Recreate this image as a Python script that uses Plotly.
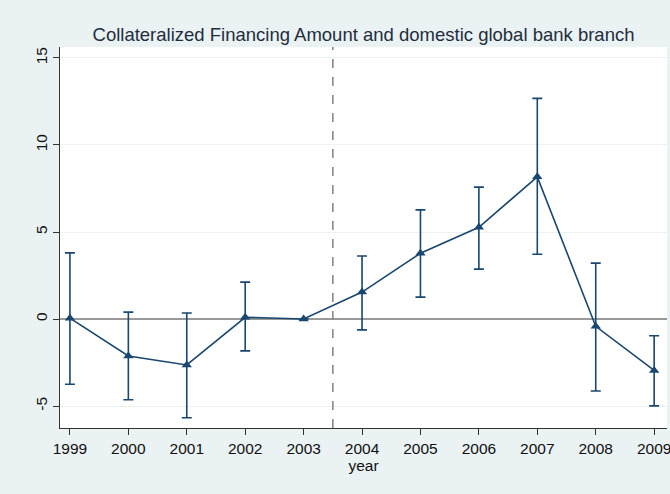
import plotly.graph_objects as go

years = [1999, 2000, 2001, 2002, 2003, 2004, 2005, 2006, 2007, 2008, 2009]
coef = [0.05, -2.12, -2.64, 0.1, 0.0, 1.55, 3.78, 5.27, 8.17, -0.42, -2.95]
ci_high = [3.8, 0.4, 0.35, 2.12, 0.0, 3.62, 6.27, 7.58, 12.68, 3.21, -0.96]
ci_low = [-3.75, -4.64, -5.67, -1.83, 0.0, -0.62, 1.26, 2.87, 3.72, -4.13, -4.99]
x_ticks = list(range(1999, 2010))
y_ticks = [-5, 0, 5, 10, 15]
event_line = 2003.5

navy = "#1a476f"
bg = "#eaf2f3"

err_plus = [h - c for h, c in zip(ci_high, coef)]
err_minus = [c - l for c, l in zip(coef, ci_low)]

fig = go.Figure()
fig.add_trace(go.Scatter(
    x=years, y=coef, mode="lines+markers",
    line=dict(color=navy, width=1.6),
    marker=dict(symbol="triangle-up", size=9, color=navy),
    error_y=dict(type="data", symmetric=False, array=err_plus, arrayminus=err_minus,
                 color=navy, thickness=1.6, width=5),
    showlegend=False,
))

fig.add_shape(type="line", x0=event_line, x1=event_line, y0=0, y1=1,
              xref="x", yref="paper",
              line=dict(color="#8a8a8a", width=1.6, dash="dash"))

fig.update_layout(
    width=670, height=494,
    margin=dict(l=60, r=3, t=47, b=66, autoexpand=False),
    paper_bgcolor=bg, plot_bgcolor="white",
    font=dict(family="Liberation Sans, Arial, sans-serif", color="#111111"),
    title=dict(text="Collateralized Financing Amount and domestic global bank branch",
               x=0.5, xref="paper", xanchor="center", y=1 - 35 / 494, yanchor="middle",
               font=dict(size=18.5, color="#1f2d3d")),
)
fig.update_xaxes(
    range=[1998.83, 2009.22], tickvals=x_ticks, ticktext=[str(v) for v in x_ticks],
    ticklabeloverflow="allow", automargin=False,
    showgrid=False, zeroline=False,
    showline=True, linecolor="#333333", linewidth=1.2,
    ticks="outside", ticklen=6, tickcolor="#333333",
    tickfont=dict(size=15.5),
    title=dict(text="year", font=dict(size=15.5), standoff=2),
)
fig.update_yaxes(
    range=[-6.26, 15.63], tickvals=y_ticks, ticktext=["-5", "0", "5", "10", "15"],
    tickangle=-90, automargin=False,
    showgrid=True, gridcolor="#eaf2f3", gridwidth=1.2,
    zeroline=True, zerolinecolor="#999999", zerolinewidth=1.6,
    showline=True, linecolor="#333333", linewidth=1.2,
    ticks="outside", ticklen=6, tickcolor="#333333",
    tickfont=dict(size=15.5),
)

fig.write_html("out.html")
